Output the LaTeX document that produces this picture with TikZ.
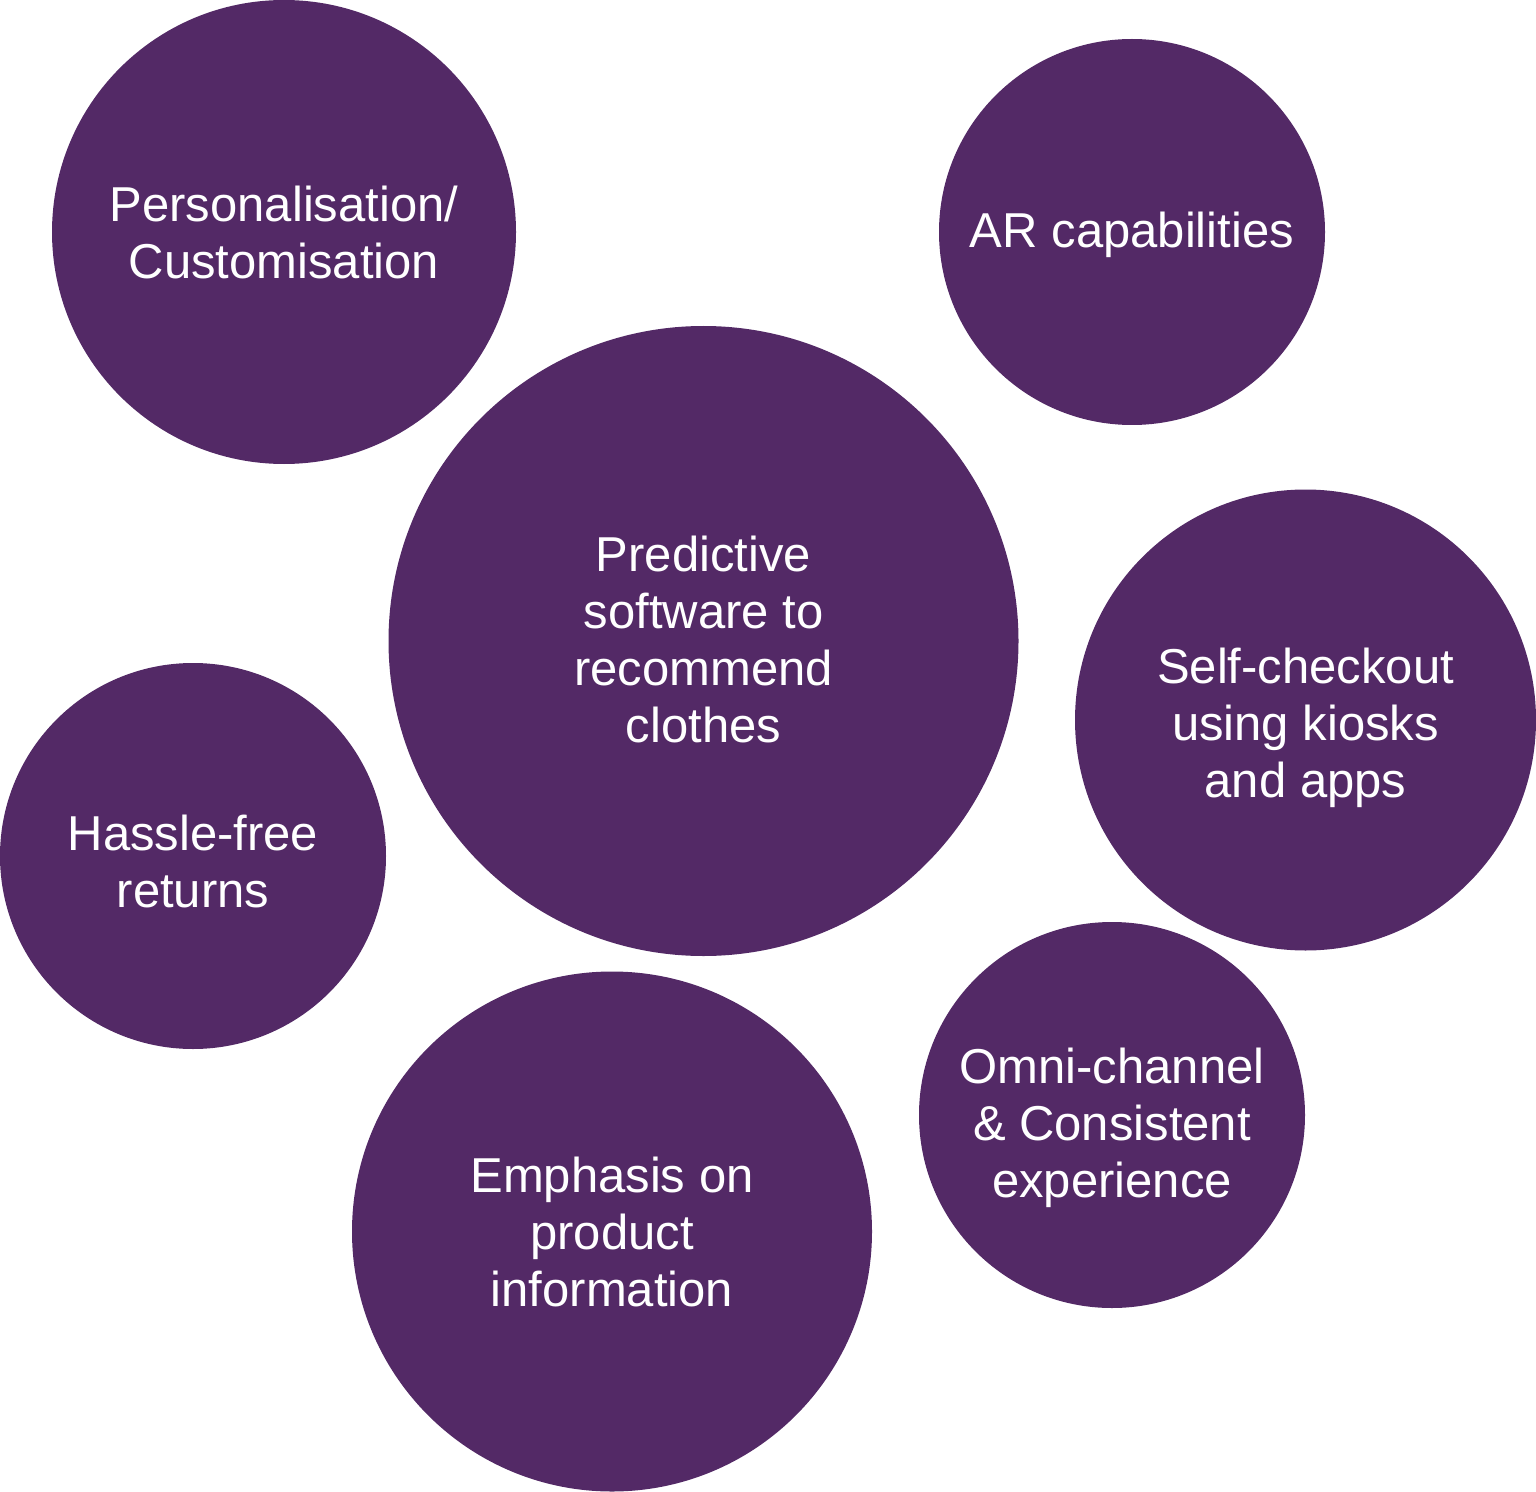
\documentclass[tikz,border=0pt]{standalone}
\usepackage{fontspec}
\setmainfont{Liberation Sans}
\definecolor{bubble}{HTML}{532966}
\begin{document}
\begin{tikzpicture}[x=0.5pt,y=-0.5pt,
  bub/.style={circle,fill=bubble,draw=none,inner sep=0pt},
  lbl/.style={text=white,align=center,inner sep=0pt,
    font=\fontsize{24.5}{28.5}\selectfont}]
\useasboundingbox (0,0) rectangle (1536,1492);
\node[bub,minimum size=464pt/2] (pers) at (284,232) {};
\node[bub,minimum size=386pt/2] (ar) at (1132,232) {};
\node[bub,minimum size=630pt/2] (pred) at (703.5,641) {};
\node[bub,minimum size=461pt/2] (self) at (1305.5,720) {};
\node[bub,minimum size=386pt/2] (hass) at (193,856) {};
\node[bub,minimum size=520pt/2] (emph) at (612,1231.5) {};
\node[bub,minimum size=386pt/2] (omni) at (1112,1115) {};
\node[lbl] (persT) at (pers) {Personalisation/\\Customisation};
\node[lbl,yshift=-1.5pt] (arT) at (ar) {AR capabilities};
\node[lbl,yshift=1pt] (predT) at (pred) {Predictive\\software to\\recommend\\clothes};
\node[lbl,yshift=-4pt] (selfT) at (self) {Self-checkout\\using kiosks\\and apps};
\node[lbl,yshift=-2.5pt] (hassT) at (hass) {Hassle-free\\returns};
\node[lbl] (emphT) at (emph) {Emphasis on\\product\\information};
\node[lbl,yshift=-6.5pt] (omniT) at (omni) {Omni-channel\\\& Consistent\\experience};
\end{tikzpicture}
\end{document}
